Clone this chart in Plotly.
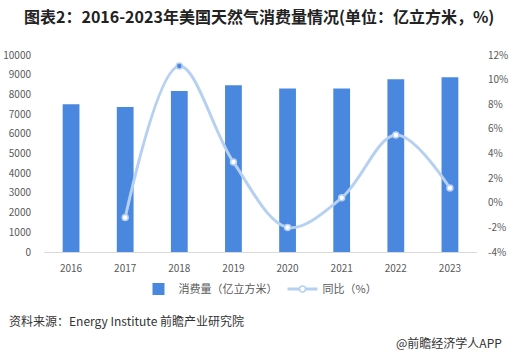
import plotly.graph_objects as go

years = ["2016", "2017", "2018", "2019", "2020", "2021", "2022", "2023"]
consumption = [7500, 7360, 8170, 8470, 8300, 8300, 8770, 8870]
yoy = [None, -1.2, 11.1, 3.3, -2.0, 0.4, 5.5, 1.2]
left_ticks = [0, 1000, 2000, 3000, 4000, 5000, 6000, 7000, 8000, 9000, 10000]
right_ticks = [-4, -2, 0, 2, 4, 6, 8, 10, 12]

BAR = "#4a87de"
LINE = "#b5d0f1"
FONT = "Noto Sans CJK SC"
GRAY = "#595959"

marker_fill = ["white"] * len(years)
marker_fill[2] = BAR

L, R, T, B = 44, 43, 55, 100
W, H = 520, 352
pw = W - L - R
ph = H - T - B


def px(x):
    return (x - L) / pw


def py(y):
    return (H - B - y) / ph


fig = go.Figure()
fig.add_trace(go.Bar(
    x=years, y=consumption, name="消费量（亿立方米）",
    marker=dict(color=BAR, line=dict(width=0)), width=0.31,
))
fig.add_trace(go.Scatter(
    x=years, y=yoy, name="同比（%）", yaxis="y2",
    mode="lines+markers",
    line=dict(color=LINE, width=3, shape="spline", smoothing=1.0),
    marker=dict(size=6, color=marker_fill, line=dict(color=LINE, width=1.5)),
    connectgaps=False,
))

fig.update_layout(
    width=W, height=H,
    margin=dict(l=L, r=R, t=T, b=B, autoexpand=False),
    paper_bgcolor="white", plot_bgcolor="white",
    font=dict(family=FONT, size=10, color=GRAY),
    showlegend=True,
    legend=dict(orientation="h", x=0.5, xanchor="center", y=py(289), yanchor="middle",
                font=dict(size=11, color=GRAY), tracegroupgap=0,
                traceorder="normal"),
    xaxis=dict(type="category", range=[-0.5, 7.5], showline=True, linecolor="#d9d9d9",
               linewidth=1, showgrid=False, ticks="", tickfont=dict(size=10, color=GRAY),
               ticklabelstandoff=7, automargin=False),
    yaxis=dict(range=[0, 10000], tickvals=left_ticks, ticktext=[str(v) for v in left_ticks],
               showgrid=False, zeroline=False, automargin=False,
               showline=False, ticks="", tickfont=dict(size=10, color=GRAY),
               ticklabelstandoff=12),
    yaxis2=dict(range=[-4, 12], tickvals=right_ticks,
                ticktext=[f"{v}%" for v in right_ticks],
                overlaying="y", side="right", showgrid=False, zeroline=False,
                showline=False, ticks="", tickfont=dict(size=10, color=GRAY),
                ticklabelstandoff=10, automargin=False),
    annotations=[
        dict(text="<b>图表2：2016-2023年美国天然气消费量情况(单位：亿立方米，%)</b>",
             x=px(22), y=py(16), xref="paper", yref="paper", showarrow=False,
             xanchor="left", yanchor="middle",
             font=dict(family=FONT, size=16, color="#222222")),
        dict(text="资料来源：Energy Institute 前瞻产业研究院",
             x=px(7), y=py(320), xref="paper", yref="paper", showarrow=False,
             xanchor="left", yanchor="middle",
             font=dict(family=FONT, size=12, color="#333333")),
        dict(text="@前瞻经济学人APP",
             x=px(504), y=py(342), xref="paper", yref="paper", showarrow=False,
             xanchor="right", yanchor="middle",
             font=dict(family=FONT, size=12, color="#333333")),
    ],
)

fig.write_html("out.html")
